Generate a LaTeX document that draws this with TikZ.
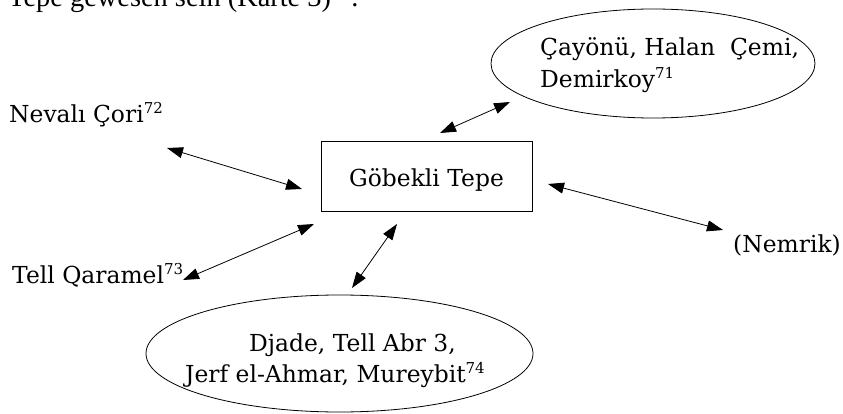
\documentclass[tikz,border=0pt]{standalone}
\usepackage{fontspec}
\setmainfont{DejaVu Serif}
\newfontfamily\timesfont{Liberation Serif}
\usetikzlibrary{arrows.meta,shapes.geometric}
\newcommand\supr[1]{\raisebox{9pt}{\fontsize{15}{15}\selectfont #1}}
\begin{document}
\begin{tikzpicture}[x=1pt,y=-1pt,
  every node/.style={inner sep=0pt, font=\fontsize{23.4}{31}\selectfont},
  lbl/.style={anchor=base west},
  shapeline/.style={draw, line width=0.8pt},
  link/.style={{Triangle[length=16pt,width=11pt]}-{Triangle[length=16pt,width=11pt]}, line width=0.8pt}]
\useasboundingbox (0,0) rectangle (843,414);
% cut-off line of running text
\node[lbl, font=\timesfont\fontsize{28.4}{34}\selectfont] (intro) at (8,7) {Tepe gewesen sein (Karte 3)\textsuperscript{70}.};
% centre box
\node[shapeline, minimum width=211pt, minimum height=70pt, text height=20pt, text depth=0pt] (gt) at (426.5,176) {Göbekli Tepe};
% top ellipse
\node[shapeline, ellipse, minimum width=324pt, minimum height=109pt] (ellA) at (653,63.5) {};
\node[lbl] (c1) at (540,56) {Çayönü, Halan\ \ Çemi,};
\node[lbl] (c2) at (540,88) {Demirkoy\supr{71}};
% side labels
\node[lbl] (nc) at (9,123) {Nevalı Çori\supr{72}};
\node[lbl] (tq) at (12,283) {Tell Qaramel\supr{73}};
\node[lbl] (nm) at (733,252) {(Nemrik)};
% bottom ellipse
\node[shapeline, ellipse, minimum width=387pt, minimum height=117pt] (ellB) at (339.5,353.5) {};
\node[lbl] (d1) at (249,351) {Djade, Tell Abr 3,};
\node[lbl] (d2) at (185,382) {Jerf el-Ahmar, Mureybit\supr{74}};
% arrow end points
\coordinate (a1s) at (440,133); \coordinate (a1e) at (510,102);
\coordinate (a2s) at (167,148); \coordinate (a2e) at (302,189);
\coordinate (a3s) at (183,280); \coordinate (a3e) at (314,224);
\coordinate (a4s) at (352,288); \coordinate (a4e) at (397,224);
\coordinate (a5s) at (548,184); \coordinate (a5e) at (723,230);
\draw[link] (a1s) -- (a1e);
\draw[link] (a2s) -- (a2e);
\draw[link] (a3s) -- (a3e);
\draw[link] (a4s) -- (a4e);
\draw[link] (a5s) -- (a5e);
\end{tikzpicture}
\end{document}
